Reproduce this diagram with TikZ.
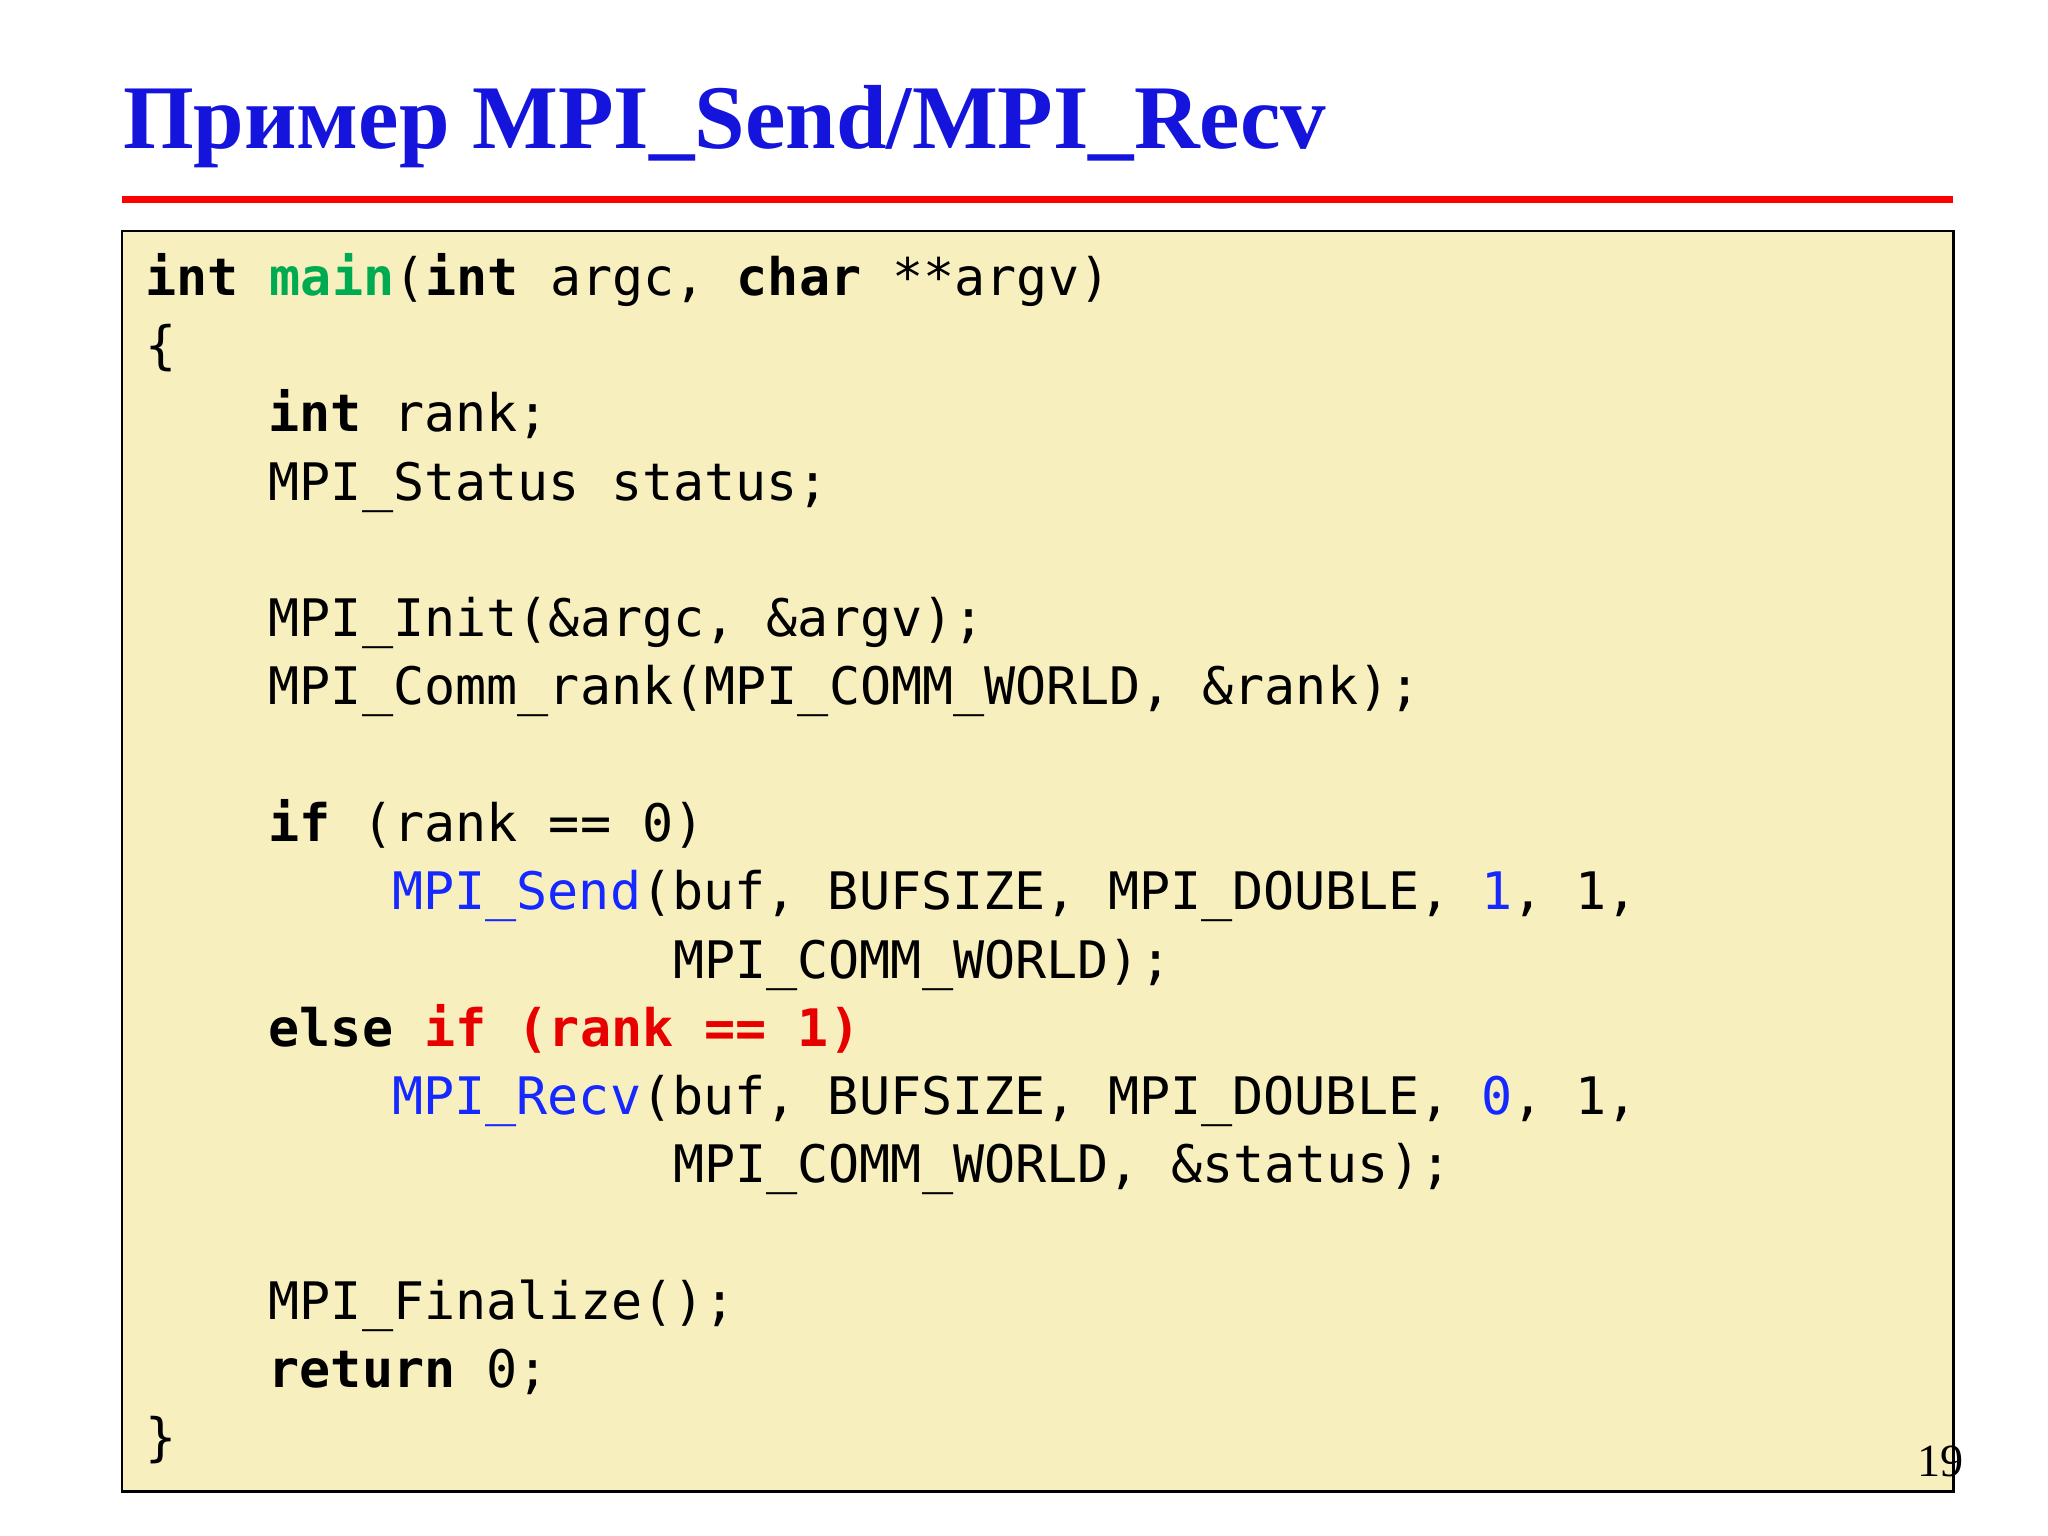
\documentclass[tikz,border=0pt]{standalone}
\usepackage{fontspec}
\setmainfont{Liberation Serif}
\setmonofont{DejaVu Sans Mono}
\definecolor{titleblue}{RGB}{20,20,220}
\definecolor{boxfill}{RGB}{247,239,190}
\definecolor{kwgreen}{RGB}{0,170,80}
\definecolor{fnblue}{RGB}{20,40,255}
\definecolor{kwred}{RGB}{230,0,0}
\newcommand{\kw}[1]{\textbf{#1}}
\tikzset{code/.style={anchor=base west,inner sep=0pt,font=\ttfamily\fontsize{11.2pt}{13pt}\selectfont}}
\begin{document}
\begin{tikzpicture}[x=0.01cm,y=-0.01cm]
\useasboundingbox (0,0) rectangle (1560,1170);
\node[anchor=base west,inner sep=0pt,text=titleblue,font=\bfseries\fontsize{19.7pt}{22pt}\selectfont] (title) at (93,113) {Пример MPI\_Send/MPI\_Recv};
\fill[red] (93,149) rectangle (1488,155);
\draw[fill=boxfill,line width=0.6pt] (93,176) rectangle (1488,1136);
\node[code] (l0) at (110,225) {\kw{int} \textcolor{kwgreen}{\kw{main}}(\kw{int} argc, \kw{char} **argv)};
\node[code] (l1) at (110,277) {\{};
\node[code] (l2) at (204,329) {\kw{int} rank;};
\node[code] (l3) at (204,381) {MPI\_Status status;};
\node[code] (l5) at (204,485) {MPI\_Init(\&argc, \&argv);};
\node[code] (l6) at (204,537) {MPI\_Comm\_rank(MPI\_COMM\_WORLD, \&rank);};
\node[code] (l8) at (204,641) {\kw{if} (rank == 0)};
\node[code] (l9) at (298,693) {\textcolor{fnblue}{MPI\_Send}(buf, BUFSIZE, MPI\_DOUBLE, \textcolor{fnblue}{1}, 1,};
\node[code] (l10) at (512,745) {MPI\_COMM\_WORLD);};
\node[code] (l11) at (204,797) {\kw{else} \textcolor{kwred}{\kw{if (rank == 1)}}};
\node[code] (l12) at (298,849) {\textcolor{fnblue}{MPI\_Recv}(buf, BUFSIZE, MPI\_DOUBLE, \textcolor{fnblue}{0}, 1,};
\node[code] (l13) at (512,901) {MPI\_COMM\_WORLD, \&status);};
\node[code] (l15) at (204,1005) {MPI\_Finalize();};
\node[code] (l16) at (204,1057) {\kw{return} 0;};
\node[code] (l17) at (110,1109) {\}};
\node[anchor=base west,inner sep=0pt,font=\fontsize{10pt}{12pt}\selectfont] (page) at (1460,1125) {19};
\end{tikzpicture}
\end{document}
